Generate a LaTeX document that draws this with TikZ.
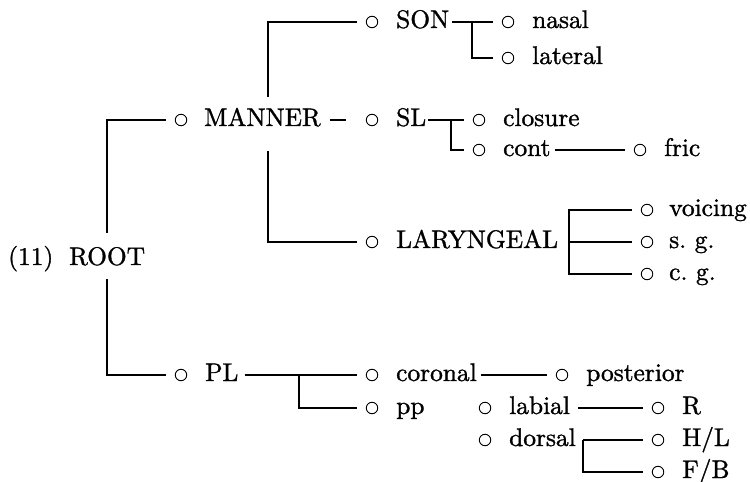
\documentclass[tikz,border=0pt]{standalone}
\usepackage{fontspec}
\newfontfamily\lblfont{lmroman10-regular.otf}[FakeBold=1.2]
\begin{document}
\begin{tikzpicture}[x=1bp,y=-1bp,
  lbl/.style={anchor=base west, inner sep=0pt, font=\lblfont\fontsize{25.5}{30}\selectfont},
  dot/.style={circle, draw, minimum size=11.5bp, inner sep=0pt, line width=0.9bp, outer sep=9.5bp},
  conn/.style={line width=1.1bp},
]
\useasboundingbox (0,0) rectangle (750,482);

% feature nodes (open circles)
\node[dot] (cManner)    at (181,120) {};
\node[dot] (cPL)        at (181,375) {};
\node[dot] (cSON)       at (372,22)  {};
\node[dot] (cSL)        at (372,120) {};
\node[dot] (cLar)       at (372,242) {};
\node[dot] (cCoronal)   at (372,375) {};
\node[dot] (cPp)        at (372,408) {};
\node[dot] (cNasal)     at (508,22)  {};
\node[dot] (cLateral)   at (508,58)  {};
\node[dot] (cClosure)   at (479,120) {};
\node[dot] (cCont)      at (479,150) {};
\node[dot] (cFric)      at (640,150) {};
\node[dot] (cVoicing)   at (647,210) {};
\node[dot] (cSg)        at (647,242) {};
\node[dot] (cCg)        at (647,274) {};
\node[dot] (cPosterior) at (562,375) {};
\node[dot] (cLabial)    at (485,408) {};
\node[dot] (cDorsal)    at (485,440) {};
\node[dot] (cR)         at (658,408) {};
\node[dot] (cHL)        at (658,440) {};
\node[dot] (cFB)        at (658,472) {};

% labels
\node[lbl] (lNum)       at (8,265)   {(11)};
\node[lbl] (lRoot)      at (69,265)  {ROOT};
\node[lbl] (lManner)    at (204,126) {MANNER};
\node[lbl] (lPL)        at (205,381) {PL};
\node[lbl] (lSON)       at (396,28)  {SON};
\node[lbl] (lSL)        at (396,126) {SL};
\node[lbl] (lLar)       at (396,248) {LARYNGEAL};
\node[lbl] (lCoronal)   at (396,381) {coronal};
\node[lbl] (lPp)        at (396,414) {pp};
\node[lbl] (lNasal)     at (532,28)  {nasal};
\node[lbl] (lLateral)   at (532,64)  {lateral};
\node[lbl] (lClosure)   at (503,126) {closure};
\node[lbl] (lCont)      at (503,156) {cont};
\node[lbl] (lFric)      at (664,156) {fric};
\node[lbl] (lVoicing)   at (669,216) {voicing};
\node[lbl] (lSg)        at (669,248) {s.\ g.};
\node[lbl] (lCg)        at (669,280) {c.\ g.};
\node[lbl] (lPosterior) at (586,381) {posterior};
\node[lbl] (lLabial)    at (509,414) {labial};
\node[lbl] (lDorsal)    at (509,446) {dorsal};
\node[lbl] (lR)         at (682,414) {R};
\node[lbl] (lHL)        at (682,446) {H/L};
\node[lbl] (lFB)        at (682,478) {F/B};

% bracket junctions
\coordinate (rootT) at (107,233);
\coordinate (rootB) at (107,279);
\coordinate (manT)  at (268,97);
\coordinate (manB)  at (268,151);
\coordinate (sonJ)  at (472,22);
\coordinate (slJ)   at (451,120);
\coordinate (larJ)  at (569,242);
\coordinate (plJ)   at (299,375);
\coordinate (dorJ)  at (583,440);

% ROOT
\draw[conn] (rootT) |- (cManner.west);
\draw[conn] (rootB) |- (cPL.west);

% MANNER
\draw[conn] ([xshift=9bp]lManner.east |- cSL) -- ([xshift=-11bp]cSL.west);
\draw[conn] (manT) |- (cSON.west);
\draw[conn] (manB) |- (cLar.west);

% SON
\draw[conn] ([xshift=3bp]lSON.east |- cSON) -- (cNasal.west);
\draw[conn] (sonJ) |- (cLateral.west);

% SL
\draw[conn] ([xshift=1.5bp]lSL.east |- cSL) -- (cClosure.west);
\draw[conn] (slJ) |- (cCont.west);
\draw[conn] ([xshift=4bp]lCont.east |- cCont) -- (cFric.west);

% LARYNGEAL
\draw[conn] (cVoicing.west) -| (larJ) |- (cCg.west);
\draw[conn] (larJ) -- (cSg.west);

% PL
\draw[conn] ([xshift=6bp]lPL.east |- cPL) -- (cCoronal.west);
\draw[conn] (plJ) |- (cPp.west);
\draw[conn] ([xshift=4bp]lCoronal.east |- cCoronal) -- (cPosterior.west);
\draw[conn] ([xshift=8bp]lLabial.east |- cLabial) -- (cR.west);
\draw[conn] (dorJ) -- (cHL.west);
\draw[conn] (dorJ) |- (cFB.west);
\end{tikzpicture}
\end{document}
